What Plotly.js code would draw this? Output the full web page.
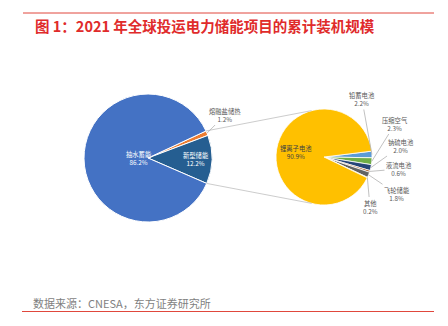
<!DOCTYPE html>
<html><head><meta charset="utf-8">
<script src="https://cdn.plot.ly/plotly-3.0.1.min.js"></script>
<style>body{margin:0;background:#fff}</style></head>
<body><div id="chart" style="width:448px;height:326px"></div>
<script>
// ---- data ----
const mainLabels = ['熔融盐储热', '新型储能', '抽水蓄能'];
const mainValues = [1.2, 12.2, 86.2];
const mainColors = ['#ED7D31', '#255E91', '#4472C4'];

const subLabels = ['铅蓄电池', '压缩空气', '钠硫电池', '液流电池', '飞轮储能', '其他', '锂离子电池'];
const subValues = [2.2, 2.3, 2.0, 0.6, 1.8, 0.2, 90.9];
const subColors = ['#5B9BD5', '#70AD47', '#264478', '#9E480E', '#636363', '#997300', '#FFC000'];

const titleText = '图 1：2021 年全球投运电力储能项目的累计装机规模';
const sourceText = '数据来源：CNESA，东方证券研究所';

// ---- layout geometry ----
const W = 448, H = 326;
const FONT = '"Noto Sans CJK SC", "Noto Sans", sans-serif';
const LS = 6.3;
const Lp = {cx: 148, cy: 158, r: 64, rot: 65};
const Rp = {cx: 324, cy: 157, r: 48, rot: 83};

function domainOf(p) {
  return {x: [(p.cx - p.r) / W, (p.cx + p.r) / W],
          y: [1 - (p.cy + p.r) / H, 1 - (p.cy - p.r) / H]};
}
function angles(values, p) {
  const tot = values.reduce((a, b) => a + b, 0);
  let cur = p.rot; const out = [];
  values.forEach(v => { const st = cur; cur += v / tot * 360; out.push({start: st, end: cur, mid: (st + cur) / 2}); });
  return out;
}
function pt(p, deg, k) {
  const a = deg * Math.PI / 180;
  return [p.cx + k * p.r * Math.sin(a), p.cy - k * p.r * Math.cos(a)];
}
const px2x = x => x / W, px2y = y => 1 - y / H;
const pct = v => v.toFixed(1) + '%';

const LA = angles(mainValues, Lp);
const RA = angles(subValues, Rp);

const annotations = [];
function inLabel(p, ang, k, txt, color) {
  const [x, y] = pt(p, ang.mid, k);
  annotations.push({x: px2x(x), y: px2y(y), xref: 'paper', yref: 'paper', showarrow: false,
    text: txt, align: 'center', font: {family: FONT, size: LS, color: color}});
}
inLabel(Lp, LA[2], 0.37, mainLabels[2] + '<br>' + pct(mainValues[2]), '#ffffff');
inLabel(Lp, LA[1], 0.75, mainLabels[1] + '<br>' + pct(mainValues[1]), '#ffffff');
inLabel(Rp, RA[6], 0.6, subLabels[6] + '<br>' + pct(subValues[6]), '#404040');

function outLabel(p, ang, tx, ty, txt) {
  const [x, y] = pt(p, ang.mid, 1.0);
  annotations.push({x: px2x(x), y: px2y(y), xref: 'paper', yref: 'paper', showarrow: true,
    ax: tx - x, ay: ty - y, arrowhead: 0, arrowwidth: 0.7, arrowcolor: '#A6A6A6', standoff: 0,
    text: txt, align: 'center', font: {family: FONT, size: LS, color: '#595959'}});
}
outLabel(Lp, LA[0], 225, 115, mainLabels[0] + '<br>' + pct(mainValues[0]));
const outPos = [[362, 99.5], [395, 124], [401, 146], [399, 169], [397, 194], [370, 207]];
for (let i = 0; i < 6; i++) {
  outLabel(Rp, RA[i], outPos[i][0], outPos[i][1], subLabels[i] + '<br>' + pct(subValues[i]));
}

annotations.push({x: 33 / W, y: px2y(25), xref: 'paper', yref: 'paper', xanchor: 'left', yanchor: 'middle',
  showarrow: false, text: '<b>' + titleText + '</b>', font: {family: FONT, size: 14.5, color: '#E02B2B'}});
annotations.push({x: 31 / W, y: px2y(302.5), xref: 'paper', yref: 'paper', xanchor: 'left', yanchor: 'middle',
  showarrow: false, text: sourceText, font: {family: FONT, size: 11, color: '#7F7F7F'}});

const [l1x, l1y] = pt(Lp, LA[0].start, 1);
const [l2x, l2y] = pt(Lp, LA[1].end, 1);
const [r1x, r1y] = pt(Rp, -15, 1);
const [r2x, r2y] = pt(Rp, 195, 1);
const shapes = [
  {type: 'line', xref: 'paper', yref: 'paper', x0: px2x(l1x), y0: px2y(l1y), x1: px2x(r1x), y1: px2y(r1y), line: {color: '#BFBFBF', width: 0.8}},
  {type: 'line', xref: 'paper', yref: 'paper', x0: px2x(l2x), y0: px2y(l2y), x1: px2x(r2x), y1: px2y(r2y), line: {color: '#BFBFBF', width: 0.8}},
  {type: 'line', xref: 'paper', yref: 'paper', x0: 23 / W, x1: 434 / W, y0: px2y(13), y1: px2y(13), line: {color: '#E0473C', width: 1}},
  {type: 'line', xref: 'paper', yref: 'paper', x0: 22 / W, x1: 434 / W, y0: px2y(311.5), y1: px2y(311.5), line: {color: '#E0473C', width: 1}}
];

const traces = [
  {type: 'pie', labels: mainLabels, values: mainValues, sort: false, direction: 'clockwise', rotation: Lp.rot,
   marker: {colors: mainColors, line: {color: '#ffffff', width: 1}}, textinfo: 'none', hoverinfo: 'none',
   domain: domainOf(Lp), showlegend: false},
  {type: 'pie', labels: subLabels, values: subValues, sort: false, direction: 'clockwise', rotation: Rp.rot,
   marker: {colors: subColors, line: {color: '#ffffff', width: 0.8}}, textinfo: 'none', hoverinfo: 'none',
   domain: domainOf(Rp), showlegend: false}
];

Plotly.newPlot('chart', traces, {
  width: W, height: H, margin: {l: 0, r: 0, t: 0, b: 0},
  paper_bgcolor: '#ffffff', plot_bgcolor: '#ffffff', showlegend: false,
  annotations: annotations, shapes: shapes
}, {staticPlot: true, displayModeBar: false});
</script>
</body></html>
